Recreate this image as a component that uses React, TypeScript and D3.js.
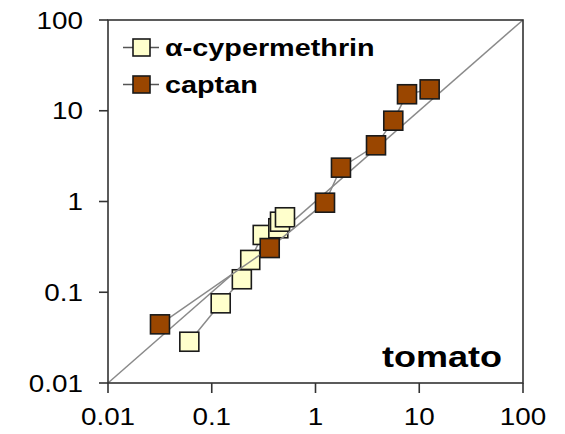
import React from "react";
import * as d3 from "d3";

const cyperX = [0.0608, 0.122, 0.195, 0.235, 0.31, 0.438, 0.455, 0.508];
const cyperY = [0.0285, 0.0755, 0.139, 0.227, 0.428, 0.507, 0.599, 0.67];
const captanX = [0.0317, 0.362, 1.235, 1.76, 3.83, 5.62, 7.62, 12.6];
const captanY = [0.0443, 0.307, 0.97, 2.36, 4.16, 7.77, 15.2, 17.2];
const tickValues = [0.01, 0.1, 1, 10, 100];
const tickLabels = ["0.01", "0.1", "1", "10", "100"];
const seriesNames = ["α-cypermethrin", "captan"];
const seriesColors = ["#FFFFCC", "#9A4600"];
const panelLabel = "tomato";

const W = 565, H = 434;
const L = 108, R = 523, T = 20, B = 383;

function SText({ x, y, sx, anchor, size, weight, children }: any) {
  return (
    <text
      transform={`translate(${x},${y}) scale(${sx},1)`}
      textAnchor={anchor}
      fontSize={size}
      fontWeight={weight}
      fontFamily="'Liberation Sans', Arial, sans-serif"
      fill="#000"
    >
      {children}
    </text>
  );
}

export default function App() {
  const x = d3.scaleLog().domain([0.01, 100]).range([L, R]);
  const y = d3.scaleLog().domain([0.01, 100]).range([B, T]);
  const line = d3
    .line<[number, number]>()
    .x((d) => x(d[0]))
    .y((d) => y(d[1]));
  const series = [
    { xs: cyperX, ys: cyperY, color: seriesColors[0] },
    { xs: captanX, ys: captanY, color: seriesColors[1] },
  ];
  const ms = 19;
  return (
    <svg width={W} height={H} style={{ position: "absolute", left: 0, top: 0 }}>
      <rect x={0} y={0} width={W} height={H} fill="#fff" />
      {/* 1:1 line */}
      <line x1={x(0.01)} y1={y(0.01)} x2={x(100)} y2={y(100)} stroke="#8a8a8a" strokeWidth={1.5} />
      {series.map((s, i) => {
        const pts: [number, number][] = s.xs.map((v, j) => [v, s.ys[j]]);
        return (
          <g key={i}>
            <path d={line(pts) || ""} fill="none" stroke="#8a8a8a" strokeWidth={1.5} />
            {pts.map((p, j) => (
              <rect
                key={j}
                x={x(p[0]) - ms / 2}
                y={y(p[1]) - ms / 2}
                width={ms}
                height={ms}
                fill={s.color}
                stroke="#1a1a1a"
                strokeWidth={1.6}
              />
            ))}
          </g>
        );
      })}
      {/* frame */}
      <rect x={L} y={T} width={R - L} height={B - T} fill="none" stroke="#333" strokeWidth={1.6} />
      {tickValues.map((v, i) => (
        <g key={i}>
          <line x1={L - 9} x2={L} y1={y(v)} y2={y(v)} stroke="#333" strokeWidth={1.6} />
          <line x1={x(v)} x2={x(v)} y1={B} y2={B + 10} stroke="#333" strokeWidth={1.6} />
          <SText x={83} y={y(v) + 8.5} sx={1.16} anchor="end" size={24}>
            {tickLabels[i]}
          </SText>
          <SText x={x(v)} y={425} sx={1.16} anchor="middle" size={24}>
            {tickLabels[i]}
          </SText>
        </g>
      ))}
      {/* legend */}
      {seriesNames.map((n, i) => {
        const ly = 47.5 + i * 37;
        return (
          <g key={i}>
            <line x1={123} x2={159} y1={ly} y2={ly} stroke="#555" strokeWidth={1.5} />
            <rect x={133} y={ly - 8.5} width={17} height={17} fill={seriesColors[i]} stroke="#1a1a1a" strokeWidth={1.6} />
            <SText x={165} y={ly + 8.5} sx={1.2} anchor="start" size={24} weight="bold">
              {n}
            </SText>
          </g>
        );
      })}
      <SText x={502} y={367} sx={1.2} anchor="end" size={30} weight="bold">
        {panelLabel}
      </SText>
    </svg>
  );
}
